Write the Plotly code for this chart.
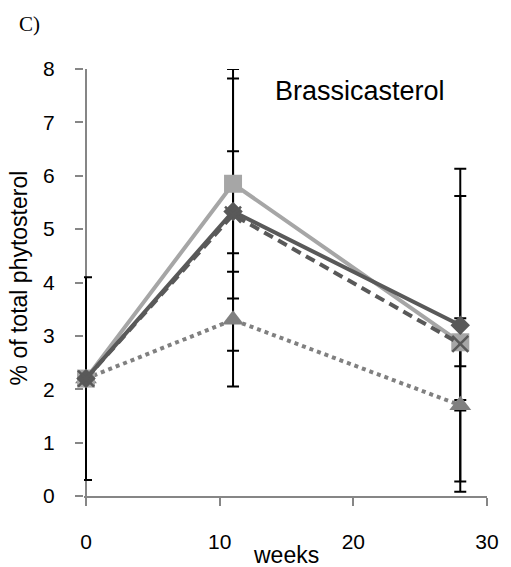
import plotly.graph_objects as go

weeks = [0, 11, 28]

# series means (% of total phytosterol) and error bar half-widths
diamond_vals = [2.2, 5.33, 3.2]
diamond_err = [1.9, 1.13, 2.93]

square_vals = [2.2, 5.85, 2.88]
square_err = [0.0, 2.15, 0.45]

cross_vals = [2.2, 5.27, 2.85]
cross_err = [0.0, 2.55, 2.77]

triangle_vals = [2.2, 3.3, 1.7]
triangle_err = [0.0, 1.25, 0.1]

x_ticks = [0, 10, 20, 30]
y_ticks = [0, 1, 2, 3, 4, 5, 6, 7, 8]

FONT = "Liberation Sans"
W, H = 511, 567
L, R, T, B = 84, 15, 69, 71
PW, PH = W - L - R, H - T - B


def px(xp):
    return (xp - L) / PW


def py(yp):
    return (H - B - yp) / PH


fig = go.Figure()

# error bars (drawn first, behind markers)
for vals, errs in [(triangle_vals, triangle_err), (square_vals, square_err),
                   (diamond_vals, diamond_err), (cross_vals, cross_err)]:
    fig.add_trace(go.Scatter(
        x=weeks, y=vals, mode="markers", cliponaxis=False,
        marker=dict(size=1, color="rgba(0,0,0,0)"),
        error_y=dict(type="data", array=errs, visible=True,
                     color="black", thickness=2, width=6),
        showlegend=False, hoverinfo="skip"))

# dotted triangles
fig.add_trace(go.Scatter(
    x=weeks, y=triangle_vals, mode="lines+markers", cliponaxis=False,
    line=dict(color="#808080", width=4, dash="dot"),
    marker=dict(symbol="triangle-up", size=19, color="#808080"),
    showlegend=False))

# light solid squares
fig.add_trace(go.Scatter(
    x=weeks, y=square_vals, mode="lines+markers", cliponaxis=False,
    line=dict(color="#A6A6A6", width=4),
    marker=dict(symbol="square", size=18, color="#A6A6A6"),
    showlegend=False))

# dark solid diamonds
fig.add_trace(go.Scatter(
    x=weeks, y=diamond_vals, mode="lines+markers", cliponaxis=False,
    line=dict(color="#595959", width=4),
    marker=dict(symbol="diamond", size=15, color="#595959"),
    showlegend=False))

# dark dashed crosses
fig.add_trace(go.Scatter(
    x=weeks, y=cross_vals, mode="lines+markers", cliponaxis=False,
    line=dict(color="#595959", width=4, dash="10px,6px"),
    marker=dict(symbol="x-thin", size=16, color="#595959",
                line=dict(color="#595959", width=2.5)),
    showlegend=False))

fig.update_layout(
    width=W, height=H,
    margin=dict(l=L, r=R, t=T, b=B),
    paper_bgcolor="white", plot_bgcolor="white",
    font=dict(family=FONT, size=21, color="black"),
    xaxis=dict(range=[-0.15, 30], tickvals=x_ticks, showgrid=False,
               zeroline=True, zerolinecolor="#868686", zerolinewidth=1.5,
               showline=True, linecolor="#868686", linewidth=1.5,
               ticks="outside", ticklen=8, tickcolor="#868686", tickwidth=1.5,
               ticklabelstandoff=18, tickfont=dict(size=21)),
    yaxis=dict(range=[0, 8], tickvals=y_ticks, showgrid=False, zeroline=False,
               showline=False,
               ticks="outside", ticklen=8, tickcolor="#868686", tickwidth=1.5,
               ticklabelstandoff=16, tickfont=dict(size=21)),
    annotations=[
        dict(text="Brassicasterol", x=px(366), y=py(91), xref="paper", yref="paper",
             xanchor="center", yanchor="middle", showarrow=False,
             font=dict(size=27, family=FONT)),
        dict(text="weeks", x=px(291), y=py(555), xref="paper", yref="paper",
             xanchor="center", yanchor="middle", showarrow=False,
             font=dict(size=23, family=FONT)),
        dict(text="% of total phytosterol", x=px(18), y=py(278), xref="paper", yref="paper",
             xanchor="center", yanchor="middle", textangle=-90, showarrow=False,
             font=dict(size=23, family=FONT)),
        dict(text="C)", x=px(28), y=py(24), xref="paper", yref="paper",
             xanchor="center", yanchor="middle", showarrow=False,
             font=dict(size=21, family="Liberation Serif")),
    ],
)

fig.write_html("out.html", config={"displayModeBar": False},
               post_script="document.body.style.margin='0';")
